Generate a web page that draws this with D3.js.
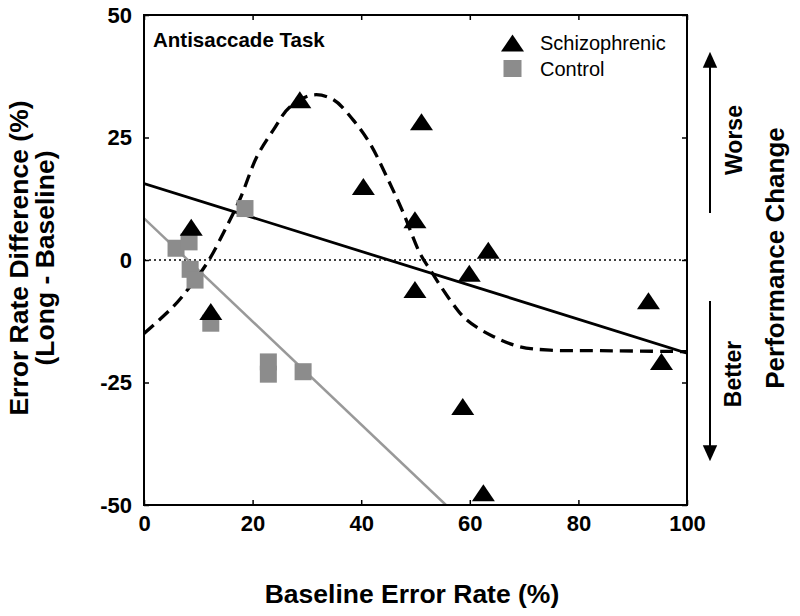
<!DOCTYPE html>
<html><head><meta charset="utf-8">
<script src="https://cdn.jsdelivr.net/npm/d3@7"></script>
<style>body{margin:0;background:#fff}svg{display:block}text{font-family:"Liberation Sans",Arial,sans-serif}</style>
</head><body>
<script>
// Data
const schizoX = [8.7, 12.3, 28.7, 40.4, 51.1, 49.9, 49.9, 63.4, 59.9, 58.7, 62.5, 92.9, 95.3];
const schizoY = [6.7, -10.5, 32.7, 15.0, 28.2, 8.2, -6.0, 2.0, -2.7, -29.9, -47.5, -8.3, -20.7];
const controlX = [18.6, 5.9, 8.3, 8.5, 9.4, 12.3, 22.9, 22.9, 29.3];
const controlY = [10.5, 2.4, 3.7, -1.9, -4.1, -12.9, -20.8, -23.3, -22.8];
const schizoFitX = [0, 100];
const schizoFitY = [15.6, -19.0];
const controlFitX = [0, 55.6];
const controlFitY = [8.5, -50];
const curveX = [0, 5.4, 8.5, 11.8, 15.2, 17.7, 20.8, 23.8, 26.9, 31.2, 34.9, 38.5, 41.6, 44.7, 47.8, 50.8, 52.7, 56.4, 59.4, 64.3, 69.2, 74.8, 84, 100];
const curveY = [-15, -9.5, -5.4, -0.3, 6.8, 12.5, 21.1, 26.5, 31.3, 33.7, 32.7, 28.6, 23.8, 17.0, 9.5, 1.4, -2.0, -8.2, -12.2, -15.6, -17.7, -18.4, -18.5, -18.7];
const xTicks = [0, 20, 40, 60, 80, 100];
const yTicks = [-50, -25, 0, 25, 50];

const W = 800, H = 616;
const FONT = '"Liberation Sans",Arial,sans-serif';
const svg = d3.select("body").append("svg").attr("width", W).attr("height", H);
const x = d3.scaleLinear().domain([0, 100]).range([144, 687]);
const y = d3.scaleLinear().domain([-50, 50]).range([505, 15]);

svg.append("clipPath").attr("id", "c").append("rect")
  .attr("x", 144).attr("y", 15).attr("width", 543).attr("height", 490);

// zero dotted line
svg.append("line").attr("x1", x(0)).attr("x2", x(100)).attr("y1", y(0)).attr("y2", y(0))
  .attr("stroke", "#000").attr("stroke-width", 1.6).attr("stroke-dasharray", "2,3");

const g = svg.append("g").attr("clip-path", "url(#c)");
const line = d3.line().x(d => x(d[0])).y(d => y(d[1]));

// control fit line
g.append("path").attr("d", line(controlFitX.map((v, i) => [v, controlFitY[i]])))
  .attr("stroke", "#999").attr("stroke-width", 2.5).attr("fill", "none");
// schizo fit line
g.append("path").attr("d", line(schizoFitX.map((v, i) => [v, schizoFitY[i]])))
  .attr("stroke", "#000").attr("stroke-width", 2.8).attr("fill", "none");
// dashed curve
g.append("path").attr("d", line.curve(d3.curveCatmullRom)(curveX.map((v, i) => [v, curveY[i]])))
  .attr("stroke", "#000").attr("stroke-width", 3.3).attr("fill", "none").attr("stroke-dasharray", "13,7");

// control squares
const sq = 17;
svg.append("g").selectAll("rect").data(controlX.map((v, i) => [v, controlY[i]])).join("rect")
  .attr("x", d => x(d[0]) - sq / 2).attr("y", d => y(d[1]) - sq / 2)
  .attr("width", sq).attr("height", sq).attr("fill", "#8c8c8c");

// triangles (flattened, matlab-like)
const triType = { draw(ctx) { const w = 11.5, h = 8.5; ctx.moveTo(0, -h); ctx.lineTo(w, h); ctx.lineTo(-w, h); ctx.closePath(); } };
const tri = d3.symbol().type(triType);
svg.append("g").selectAll("path").data(schizoX.map((v, i) => [v, schizoY[i]])).join("path")
  .attr("d", tri).attr("transform", d => `translate(${x(d[0])},${y(d[1])})`).attr("fill", "#000");

// frame
svg.append("rect").attr("x", 144).attr("y", 15).attr("width", 543).attr("height", 490)
  .attr("fill", "none").attr("stroke", "#000").attr("stroke-width", 2);

// axes
const tl = 5;
const fmt = d => String(d);
const xb = svg.append("g").attr("transform", "translate(0,505)")
  .call(d3.axisBottom(x).tickValues(xTicks).tickFormat(fmt).tickSize(-tl).tickPadding(10));
const xt = svg.append("g").attr("transform", "translate(0,15)")
  .call(d3.axisTop(x).tickValues(xTicks).tickSize(-tl).tickFormat(""));
const yl = svg.append("g").attr("transform", "translate(144,0)")
  .call(d3.axisLeft(y).tickValues(yTicks).tickFormat(fmt).tickSize(-tl).tickPadding(12));
const yr = svg.append("g").attr("transform", "translate(687,0)")
  .call(d3.axisRight(y).tickValues(yTicks).tickSize(-tl).tickFormat(""));
[xb, xt, yl, yr].forEach(a => {
  a.select(".domain").remove();
  a.selectAll("line").attr("stroke", "#000").attr("stroke-width", 1.5);
  a.selectAll("text").attr("font-size", 22).attr("font-weight", "bold").attr("fill", "#000")
    .style("font-family", FONT);
});

// titles
svg.append("text").attr("x", 412).attr("y", 603).attr("text-anchor", "middle")
  .attr("font-size", 26.5).attr("font-weight", "bold").text("Baseline Error Rate (%)");
svg.append("text").attr("transform", "translate(28,258) rotate(-90)").attr("text-anchor", "middle")
  .attr("font-size", 26.5).attr("font-weight", "bold").text("Error Rate Difference (%)");
svg.append("text").attr("transform", "translate(54,258) rotate(-90)").attr("text-anchor", "middle")
  .attr("font-size", 26.5).attr("font-weight", "bold").text("(Long - Baseline)");

svg.append("text").attr("x", 153).attr("y", 47).attr("font-size", 20.5).attr("font-weight", "bold").text("Antisaccade Task");

// legend
svg.append("path").attr("d", tri).attr("transform", "translate(512.5,43)").attr("fill", "#000");
svg.append("rect").attr("x", 503.5).attr("y", 60).attr("width", 18).attr("height", 17).attr("fill", "#8c8c8c");
svg.append("text").attr("x", 540).attr("y", 50).attr("font-size", 20).text("Schizophrenic");
svg.append("text").attr("x", 540).attr("y", 76).attr("font-size", 20).text("Control");

// right side annotation
svg.append("defs").html('<marker id="ah" viewBox="0 0 10 10" refX="3" refY="5" markerWidth="16" markerHeight="16" markerUnits="userSpaceOnUse" orient="auto"><path d="M0,0.5L10,5L0,9.5z" fill="#000"/></marker>');
svg.append("line").attr("x1", 710).attr("x2", 710).attr("y1", 213).attr("y2", 63)
  .attr("stroke", "#000").attr("stroke-width", 2).attr("marker-end", "url(#ah)");
svg.append("line").attr("x1", 710).attr("x2", 710).attr("y1", 301).attr("y2", 450)
  .attr("stroke", "#000").attr("stroke-width", 2).attr("marker-end", "url(#ah)");
svg.append("text").attr("transform", "translate(742,140) rotate(-90)").attr("text-anchor", "middle")
  .attr("font-size", 23).attr("font-weight", "bold").text("Worse");
svg.append("text").attr("transform", "translate(741,374) rotate(-90)").attr("text-anchor", "middle")
  .attr("font-size", 23).attr("font-weight", "bold").text("Better");
svg.append("text").attr("transform", "translate(784,258) rotate(-90)").attr("text-anchor", "middle")
  .attr("font-size", 26).attr("font-weight", "bold").text("Performance Change");
</script>
</body></html>
